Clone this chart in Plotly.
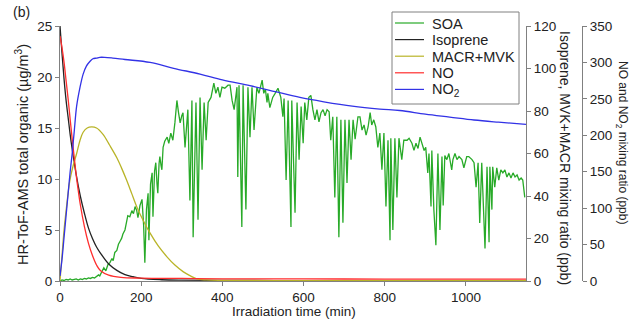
import plotly.graph_objects as go

# ---------------- data ----------------
soa_t = [0, 5, 10, 15, 20, 25, 30, 35, 40, 45, 50, 55, 60, 65, 70, 75, 80, 85, 90, 95, 98,
         103, 108, 113, 118, 123, 128, 131, 135, 140, 144, 148, 152, 155, 160, 164, 167, 172, 177,
         181, 185, 189, 192, 197, 202, 206, 209, 213, 217, 219, 223, 227, 229, 233, 236, 239, 241,
         244, 246, 249, 251, 254, 258, 264, 268, 273, 278, 283, 288, 292, 296, 300, 303, 308, 315,
         320, 325, 328, 335, 340, 345, 350, 355, 360, 365, 372, 379, 384, 389, 394, 399, 406, 414,
         419, 424, 429, 433, 436, 438, 441, 448, 451, 458, 463, 468, 473, 478, 485, 490, 498, 502,
         506, 510, 512, 517, 524, 530, 537, 544, 549, 552, 557, 562, 569, 571, 579, 584, 589, 594,
         599, 603, 608, 613, 618, 623, 628, 633, 638, 643, 648, 653, 658, 663, 667, 672, 677, 682,
         687, 692, 697, 702, 707, 712, 717, 722, 727, 734, 739, 744, 749, 754, 759, 764, 768, 773,
         778, 783, 788, 793, 798, 803, 808, 813, 815, 820, 825, 830, 835, 842, 847, 855, 860, 867,
         872, 877, 882, 887, 892, 897, 901, 906, 909, 914, 916, 921, 926, 931, 936, 941, 944, 948,
         953, 958, 965, 968, 973, 978, 983, 990, 995, 1002, 1007, 1015, 1020, 1025, 1030, 1034,
         1039, 1042, 1047, 1052, 1057, 1059, 1064, 1066, 1071, 1076, 1081, 1086, 1091, 1096, 1101,
         1106, 1111, 1116, 1121, 1126, 1131, 1136, 1140, 1145]
soa_v = [0.0, 0.1, 0.05, 0.15, 0.1, 0.2, 0.1, 0.15, 0.2, 0.1, 0.2, 0.15, 0.25, 0.2, 0.3, 0.25,
         0.35, 0.3, 0.5, 0.6, 0.5,
         0.9, 1.3, 1.0, 1.6, 1.8, 2.2, 2.0, 2.8, 3.0, 3.6, 3.9, 4.2, 4.6, 5.0, 5.8, 6.4, 6.3, 6.9,
         6.6, 7.3, 6.9, 6.2, 7.4, 8.0, 5.5, 1.8, 7.0, 8.6, 4.0, 9.5, 10.6, 6.3, 10.8, 11.6, 9.5, 8.6,
         11.5, 12.2, 11.3, 10.9, 13.1, 13.7, 14.1, 13.5, 14.5, 13.8, 15.5, 17.7, 16.5, 15.5, 16.2,
         16.5, 13.1, 16.8,
         7.9, 17.7, 4.3, 17.5, 6.0, 18.0, 10.9, 17.5, 13.8, 17.5, 18.0, 19.4, 18.4, 19.0, 18.0,
         19.0, 18.9, 19.2,
         19.2, 17.7, 16.8, 18.5, 19.0, 10.2, 19.2, 5.3, 19.2, 7.0, 19.0, 14.1, 19.0, 14.8, 19.0,
         18.4, 19.7, 18.4,
         18.8, 17.5, 18.4, 17.0, 18.0, 18.4, 18.9, 18.0, 16.1, 17.9, 9.9, 17.7, 5.3, 17.7, 6.7,
         17.5, 11.9, 17.1,
         13.5, 17.5, 15.8, 18.0, 18.2, 16.8, 15.8, 16.8, 15.6, 16.5, 16.8, 16.2, 16.8, 16.6, 13.8,
         16.1, 8.2, 16.1,
         4.3, 15.8, 5.7, 15.8, 9.6, 15.8, 11.9, 15.8, 13.9, 16.1, 16.1, 14.8, 15.3, 14.3, 15.1,
         16.5, 15.3, 15.8,
         15.1, 13.1, 14.5, 10.9, 14.5, 7.3, 13.8, 4.0, 14.0, 5.0, 14.0, 8.2, 14.0, 11.9, 13.8,
         13.8, 14.0, 13.5,
         12.8, 13.5, 13.0, 14.1, 13.5, 12.8, 13.1, 10.6, 12.5, 7.3, 12.8, 7.0, 3.5, 12.5, 5.0,
         12.2, 7.4, 12.3,
         11.9, 12.5, 10.9, 11.9, 12.5, 11.9, 12.2, 11.9, 11.1, 12.2, 12.2, 11.9, 11.6, 9.2, 11.6,
         5.7,
         11.6, 8.9, 3.2, 11.2, 3.8, 11.2, 7.0, 11.2, 9.2, 11.1, 9.9, 10.9, 10.6, 10.9, 10.2,
         10.6, 10.1, 10.6, 10.2, 10.4, 9.9, 10.1, 9.9, 8.2]

iso_t = [0, 5, 10, 15, 20, 25, 30, 35, 40, 50, 60, 70, 80, 90, 100, 120, 140, 160, 180, 200,
         250, 300, 400, 600, 800, 1000, 1148]
iso_v = [120, 107, 95, 85, 77, 69, 62, 56, 50, 40, 32, 25, 20, 16, 13, 8, 5, 3, 2, 1.2,
         0.6, 0.4, 0.3, 0.2, 0.2, 0.2, 0.2]

mvk_t = [0, 5, 10, 15, 24, 32, 41, 49, 57, 67, 78, 90, 106, 122, 140, 152, 164, 177, 189,
         205, 222, 242, 263, 283, 304, 320, 337, 360, 400, 600, 800, 1000, 1148]
mvk_v = [0, 12, 24, 33, 47, 54, 60, 66, 70, 72, 72.5, 72, 69, 64, 58, 53, 47.5, 41, 35,
         28.5, 22.5, 16.5, 11.5, 7.5, 4.3, 2.5, 1.0, 0.5, 0.3, 0.2, 0.2, 0.2, 0.2]

no_t = [0, 5, 10, 15, 20, 25, 30, 35, 40, 45, 50, 60, 70, 80, 90, 100, 120, 150, 200, 300,
        400, 600, 800, 1000, 1148]
no_v = [336, 320, 300, 275, 250, 222, 195, 170, 145, 124, 105, 75, 52, 35, 22, 14, 8, 5, 4,
        3.5, 3, 3, 2.5, 2.5, 2.5]

no2_t = [0, 5, 10, 15, 20, 25, 30, 35, 41, 49, 57, 65, 73, 81, 90, 98, 110, 130, 160, 222,
         280, 345, 400, 468, 530, 591, 650, 720, 788, 837, 900, 960, 1020, 1080, 1148]
no2_v = [7, 30, 60, 90, 120, 150, 175, 205, 240, 265, 284, 295, 301, 305, 306, 307, 307, 306,
         304, 300, 292, 284, 276, 268, 260, 252, 246, 240, 236, 234, 229, 225, 221, 218, 215]

series_names = ["SOA", "Isoprene", "MACR+MVK", "NO", "NO<sub>2</sub>"]
series_colors = ["rgb(40,170,40)", "rgb(35,35,35)", "rgb(185,180,40)", "rgb(255,45,45)",
                 "rgb(50,50,230)"]

# ---------------- figure ----------------
FONT = "Liberation Sans, Arial, sans-serif"
fig = go.Figure()
fig.add_trace(go.Scatter(x=soa_t, y=soa_v, name=series_names[0], mode="lines",
                         line=dict(color=series_colors[0], width=1.3), yaxis="y"))
fig.add_trace(go.Scatter(x=iso_t, y=iso_v, name=series_names[1], mode="lines",
                         line=dict(color=series_colors[1], width=1.3, shape="spline"), yaxis="y2"))
fig.add_trace(go.Scatter(x=mvk_t, y=mvk_v, name=series_names[2], mode="lines",
                         line=dict(color=series_colors[2], width=1.3, shape="spline"), yaxis="y2"))
fig.add_trace(go.Scatter(x=no_t, y=no_v, name=series_names[3], mode="lines",
                         line=dict(color=series_colors[3], width=1.3, shape="spline"), yaxis="y3"))
fig.add_trace(go.Scatter(x=no2_t, y=no2_v, name=series_names[4], mode="lines",
                         line=dict(color=series_colors[4], width=1.3, shape="spline"), yaxis="y3"))

L, R, T, B = 60, 582, 26, 281
W = R - L
H = B - T
dom = (526 - L) / W

axis_common = dict(showgrid=False, zeroline=False, showline=True, linecolor="#808080",
                   linewidth=1, ticks="outside", ticklen=4, tickcolor="#808080",
                   tickfont=dict(family=FONT, size=13.5, color="#222"))

fig.update_layout(
    width=630, height=320,
    margin=dict(l=L, r=630 - R, t=T, b=320 - B, pad=0),
    paper_bgcolor="white", plot_bgcolor="white",
    font=dict(family=FONT, size=13.5, color="#222"),
    xaxis=dict(domain=[0, dom], range=[0, 1148], tickvals=[0, 200, 400, 600, 800, 1000],
               **axis_common),
    yaxis=dict(range=[0, 25], tickvals=[0, 5, 10, 15, 20, 25], **axis_common),
    yaxis2=dict(range=[0, 120], tickvals=[0, 20, 40, 60, 80, 100, 120], overlaying="y",
                side="right", anchor="x", **axis_common),
    yaxis3=dict(range=[0, 350], tickvals=[0, 50, 100, 150, 200, 250, 300, 350], overlaying="y",
                side="right", anchor="free", position=1.0, **axis_common),
    showlegend=False,
)

def px2x(px):
    return (px - L) / W

def py2y(py):
    return (B - py) / H

def ann(text, px, py, size, angle=0, xanchor="center"):
    fig.add_annotation(text=text, x=px2x(px), y=py2y(py), xref="paper", yref="paper",
                       xanchor=xanchor, yanchor="middle", showarrow=False, textangle=angle,
                       font=dict(family=FONT, size=size, color="#222"))

ann("HR-ToF-AMS total organic (µg/m<sup>3</sup>)", 22, 155, 14.5, -90)
ann("Isoprene, MVK+MACR mixing ratio (ppb)", 565, 158, 14, 90)
ann("NO and NO<sub>2</sub> mixing ratio (ppb)", 622, 142, 12, 90)
ann("Irradiation time (min)", 294, 311, 13.5)
ann("(b)", 21, 12, 14)

# legend box (drawn as layout shapes + text)
fig.add_shape(type="rect", xref="paper", yref="paper", x0=px2x(392), x1=px2x(519),
              y0=py2y(104), y1=py2y(12), fillcolor="white", line=dict(color="#808080", width=1),
              layer="above")
for i, (nm, col) in enumerate(zip(series_names, series_colors)):
    py = 23 + i * 16.6
    fig.add_shape(type="line", xref="paper", yref="paper", x0=px2x(395), x1=px2x(424),
                  y0=py2y(py), y1=py2y(py), line=dict(color=col, width=1.2), layer="above")
    ann(nm, 430, py + 0.5, 14.5, 0, "left")

fig.write_html("out.html")
